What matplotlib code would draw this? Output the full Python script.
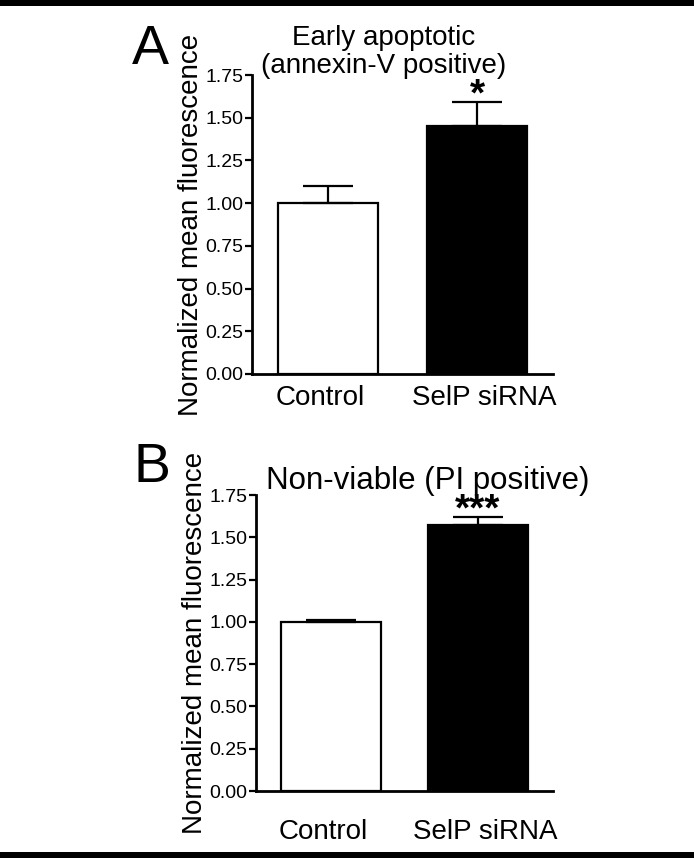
import numpy as np
import matplotlib.pyplot as plt
from matplotlib.patches import Rectangle

plt.rcParams['font.family'] = ['Liberation Sans', 'DejaVu Sans']

categories = ["Control", "SelP siRNA"]
early_mean = [1.00, 1.45]
early_sem = [0.10, 0.14]
nonviable_mean = [1.00, 1.57]
nonviable_sem = [0.01, 0.05]
yticks = [0.00, 0.25, 0.50, 0.75, 1.00, 1.25, 1.50, 1.75]
stars = ["", "*"], ["", "***"]

W, H = 694, 858
fig = plt.figure(figsize=(W / 100, H / 100), dpi=100)

# black rules at top and bottom
fig.add_artist(Rectangle((0, 1 - 6 / H), 1, 6 / H, transform=fig.transFigure,
                         color='black', lw=0))
fig.add_artist(Rectangle((0, 0), 1, 6 / H, transform=fig.transFigure,
                         color='black', lw=0))


def panel(rect, means, sems, title, letter, star, letter_xy, title_xy,
          title_size, xpad):
    l, t, r, b = rect
    ax = fig.add_axes([l / W, 1 - b / H, (r - l) / W, (b - t) / H])
    x = np.arange(len(means))
    colors = ['white', 'black']
    ax.bar(x, means, width=0.676, color=colors, edgecolor='black', linewidth=1.6,
           zorder=2)
    ax.errorbar(x, means, yerr=[np.zeros(len(sems)), sems], fmt='none',
                ecolor='black', elinewidth=1.6, capsize=18, capthick=1.6, zorder=3)
    for xi, m, s, st in zip(x, means, sems, star):
        if st:
            ax.annotate(st, (xi, m + s), xytext=(0, -2.5), textcoords='offset points',
                        ha='center', va='baseline', fontsize=28,
                        fontweight='bold', zorder=4)
    ax.set_xlim(-0.51, 1.51)
    ax.set_ylim(0, 1.75)
    ax.set_yticks(yticks)
    ax.set_yticklabels(["%.2f" % v for v in yticks], fontsize=14)
    ax.set_xticks([-0.05, 1.05])
    ax.set_xticklabels(categories, fontsize=20)
    ax.tick_params(axis='x', length=0, pad=xpad)
    ax.tick_params(axis='y', direction='out', length=5, width=1.6, pad=1)
    for s in ['top', 'right']:
        ax.spines[s].set_visible(False)
    for s in ['left', 'bottom']:
        ax.spines[s].set_linewidth(2.0)
    ax.set_ylabel("Normalized mean fluorescence", fontsize=20, labelpad=1)
    fig.text(letter_xy[0] / W, 1 - letter_xy[1] / H, letter, fontsize=40,
             ha='left', va='baseline')
    fig.text(title_xy[0] / W, 1 - title_xy[1] / H, title, fontsize=title_size,
             ha='center', va='baseline', linespacing=1.08)
    return ax


panel((252, 75, 553, 374), early_mean, early_sem,
      "Early apoptotic\n(annexin-V positive)", "A", stars[0], (132, 64), (384, 73),
      20, 8)
panel((256, 495, 553, 791), nonviable_mean, nonviable_sem,
      "Non-viable (PI positive)", "B", stars[1], (134, 482), (428, 489), 22.5, 20)

fig.savefig("out.png", dpi=100)
